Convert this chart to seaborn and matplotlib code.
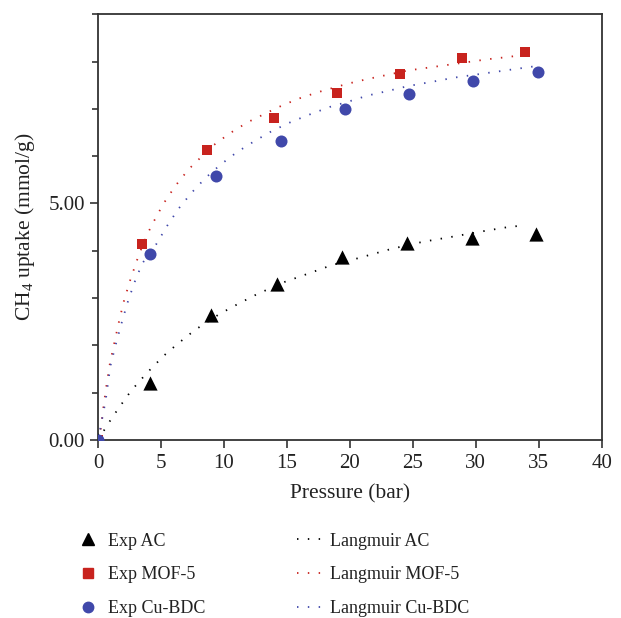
import matplotlib
matplotlib.use('Agg')
import matplotlib.pyplot as plt
from matplotlib.ticker import MultipleLocator, FormatStrFormatter
from matplotlib.lines import Line2D
import seaborn as sns

# experimental points (pressure in bar, uptake in mmol/g)
p_ac = [0, 4.1, 9.0, 14.2, 19.35, 24.5, 29.7, 34.8]
q_ac = [0, 1.21, 2.64, 3.29, 3.86, 4.16, 4.27, 4.35]
p_mof = [0, 3.45, 8.67, 13.97, 18.97, 23.97, 28.9, 33.9]
q_mof = [0, 4.14, 6.14, 6.81, 7.34, 7.73, 8.07, 8.21]
p_cu = [0, 4.1, 9.35, 14.55, 19.63, 24.7, 29.8, 34.9]
q_cu = [0, 3.94, 5.57, 6.32, 6.99, 7.32, 7.58, 7.77]

# Langmuir fit curves
lp_ac = [0, 0.46, 0.91, 1.39, 1.89, 2.4, 2.95, 3.48, 4.03, 4.62, 5.25, 5.86, 6.49,
         7.1, 7.71, 8.35, 9.62, 11.0, 12.6, 14.8, 16.4, 18.6, 20.2, 23.3, 25.8,
         28.2, 30.5, 32.3, 33.85]
lq_ac = [0, 0.2, 0.39, 0.58, 0.77, 0.96, 1.14, 1.3, 1.46, 1.62, 1.79, 1.93, 2.07,
         2.2, 2.33, 2.44, 2.66, 2.86, 3.08, 3.34, 3.49, 3.7, 3.81, 4.04, 4.19,
         4.3, 4.41, 4.49, 4.54]
lp_mof = [0, 0.2, 0.41, 0.65, 0.91, 1.26, 1.63, 2.02, 2.5, 3.06, 3.35, 4.0, 4.4,
          5.2, 6.13, 7.18, 9.06, 10.44, 11.9, 14.27, 15.86, 17.44, 19.8, 21.4,
          23.0, 24.6, 26.2, 27.8, 29.4, 31.0, 32.7, 33.45]
lq_mof = [0, 0.22, 0.67, 1.13, 1.58, 2.02, 2.47, 2.91, 3.34, 3.78, 3.99, 4.4, 4.61,
          5.0, 5.37, 5.72, 6.21, 6.48, 6.72, 7.03, 7.21, 7.35, 7.53, 7.63,
          7.72, 7.81, 7.87, 7.93, 7.99, 8.05, 8.1, 8.13]
lp_cu = [0, 0.3, 0.6, 0.97, 1.39, 1.84, 2.32, 2.87, 3.5, 4.62, 5.49, 6.39, 7.4,
         8.53, 9.72, 11.0, 12.37, 13.8, 15.3, 16.8, 18.4, 19.85, 21.4, 23.05,
         24.6, 26.7, 28.3, 29.9, 31.5, 33.1, 34.7]
lq_cu = [0, 0.42, 0.84, 1.56, 2.01, 2.45, 2.89, 3.32, 3.73, 4.14, 4.53, 4.89, 5.22,
         5.54, 5.82, 6.08, 6.31, 6.53, 6.72, 6.88, 7.04, 7.15, 7.28, 7.38,
         7.48, 7.58, 7.66, 7.72, 7.78, 7.84, 7.9]

c_ac = 'black'
c_mof = '#c8231e'
c_cu = '#4048aa'

sns.set_theme(style='ticks')
plt.rcParams['font.family'] = ['Liberation Serif', 'DejaVu Serif']
plt.rcParams['mathtext.default'] = 'regular'

fig = plt.figure(figsize=(6.21, 6.18), dpi=100)
ax = fig.add_axes([0.158, 0.288, 0.811, 0.689])

dots = (0, (0.8, 5.2))
for lp, lq, c in [(lp_ac, lq_ac, c_ac), (lp_mof, lq_mof, c_mof), (lp_cu, lq_cu, c_cu)]:
    sns.lineplot(x=lp, y=lq, ax=ax, color=c, linewidth=1.3, linestyle=dots,
                 sort=False, estimator=None)

sns.scatterplot(x=p_ac, y=q_ac, ax=ax, marker='^', color=c_ac, s=105, linewidth=0, zorder=3)
sns.scatterplot(x=p_mof, y=q_mof, ax=ax, marker='s', color=c_mof, s=55, linewidth=0, zorder=3)
sns.scatterplot(x=p_cu, y=q_cu, ax=ax, marker='o', color=c_cu, s=75, linewidth=0, zorder=3)

ax.set_xlim(0, 40)
ax.set_ylim(0, 9)
ax.xaxis.set_major_locator(MultipleLocator(5))
ax.yaxis.set_major_locator(MultipleLocator(5))
ax.yaxis.set_minor_locator(MultipleLocator(1))
ax.yaxis.set_major_formatter(FormatStrFormatter('%.2f'))
ax.tick_params(axis='both', which='major', length=6, width=1.2, colors='#333333',
               labelsize=15, labelcolor='#222222')
ax.tick_params(axis='x', which='major', pad=4)
ax.tick_params(axis='y', which='minor', length=4, width=1.2, colors='#333333')
for sp in ax.spines.values():
    sp.set_color('#333333')
    sp.set_linewidth(1.3)

ax.set_xlabel('Pressure (bar)', fontsize=15.5, color='#222222', labelpad=8)
ax.set_ylabel('CH$_4$ uptake (mmol/g)', fontsize=15.5, color='#222222', labelpad=8)

handles = [
    Line2D([], [], marker='^', color=c_ac, linestyle='none', markersize=9),
    Line2D([], [], marker='s', color=c_mof, linestyle='none', markersize=6.5),
    Line2D([], [], marker='o', color=c_cu, linestyle='none', markersize=7.5),
    Line2D([], [], color=c_ac, linestyle=dots, linewidth=1.3),
    Line2D([], [], color=c_mof, linestyle=dots, linewidth=1.3),
    Line2D([], [], color=c_cu, linestyle=dots, linewidth=1.3),
]
labels = ['Exp AC', 'Exp MOF-5', 'Exp Cu-BDC', 'Langmuir AC', 'Langmuir MOF-5', 'Langmuir Cu-BDC']
fig.legend(handles, labels, ncol=2, frameon=False, fontsize=13,
           loc='upper left', bbox_to_anchor=(0.1215, 0.138),
           bbox_transform=fig.transFigure, handlelength=1.4, handletextpad=0.4,
           columnspacing=5.1, labelspacing=0.92, borderaxespad=0, borderpad=0)
for t in fig.legends[0].get_texts():
    t.set_color('#222222')

fig.savefig('out.png', dpi=100)
